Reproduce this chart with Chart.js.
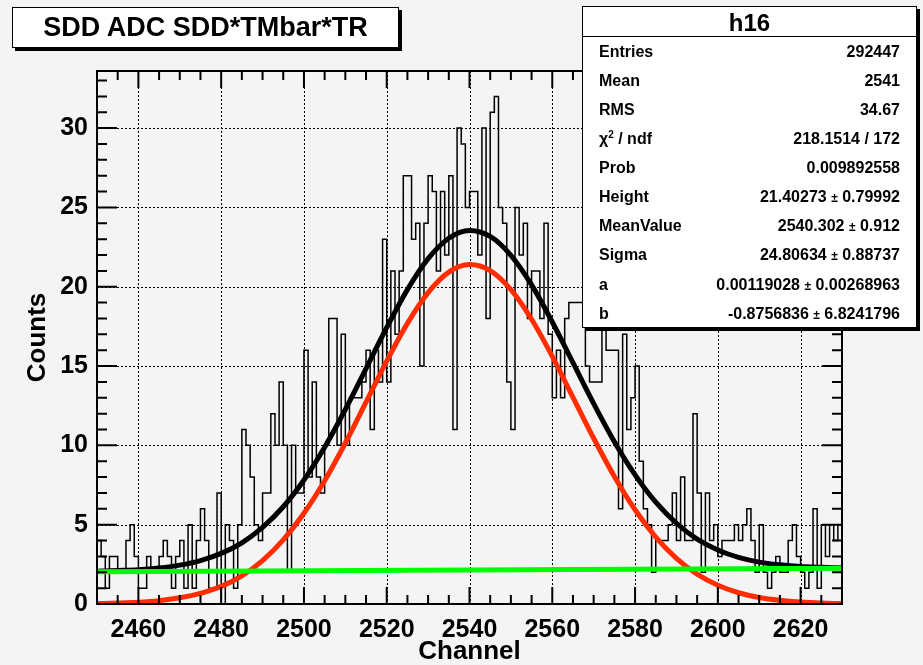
<!DOCTYPE html>
<html>
<head>
<meta charset="utf-8">
<script src="https://cdn.jsdelivr.net/npm/chart.js@4.4.1/dist/chart.umd.min.js"></script>
<style>
  html, body { margin: 0; padding: 0; background: #f4f4f4; }
  #wrap { position: relative; width: 923px; height: 665px; font-family: "Liberation Sans", Arial, Helvetica, sans-serif; font-weight: bold; color: #000; }
  canvas { position: absolute; left: 0; top: 0; }
  .box { position: absolute; background: #fff; border: 1px solid #000; box-shadow: 3px 3px 0 #000; box-sizing: border-box; }
  #title { left: 12px; top: 7px; width: 387px; height: 41px; font-size: 27px; text-align: center; line-height: 39px; }
  #stats { left: 582px; top: 6px; width: 335px; height: 322px; font-size: 16px; }
  #stats .head { height: 29px; border-bottom: 1px solid #000; text-align: center; font-size: 24px; line-height: 31px; }
  #stats .row { display: flex; justify-content: space-between; height: 29.07px; line-height: 29px; padding: 0 16px; }
  #stats sup { font-size: 10px; line-height: 0; vertical-align: 6px; }
  .pm { font-size: 12px; }
</style>
</head>
<body>
<div id="wrap">
  <canvas id="c" width="923" height="665"></canvas>
  <div id="title" class="box">SDD ADC SDD*TMbar*TR</div>
  <div id="stats" class="box">
    <div class="head">h16</div>
    <div class="row"><span>Entries</span><span>292447</span></div>
    <div class="row"><span>Mean</span><span>2541</span></div>
    <div class="row"><span>RMS</span><span>34.67</span></div>
    <div class="row"><span>&chi;<sup>2</sup> / ndf</span><span>218.1514 / 172</span></div>
    <div class="row"><span>Prob</span><span>0.009892558</span></div>
    <div class="row"><span>Height</span><span>21.40273 <span class="pm">&plusmn;</span> 0.79992</span></div>
    <div class="row"><span>MeanValue</span><span>2540.302 <span class="pm">&plusmn;</span> 0.912</span></div>
    <div class="row"><span>Sigma</span><span>24.80634 <span class="pm">&plusmn;</span> 0.88737</span></div>
    <div class="row"><span>a</span><span>0.00119028 <span class="pm">&plusmn;</span> 0.00268963</span></div>
    <div class="row"><span>b</span><span>-0.8756836 <span class="pm">&plusmn;</span> 6.8241796</span></div>
  </div>
</div>
<script>
// histogram h16: one count per channel, first bin starts at 2450
var binStart = 2450;
var binWidth = 1;
var counts = [
  4, 3, 1, 3, 3, 2, 2, 4, 5, 3, 1, 1, 3, 2, 2, 3, 4, 3, 1, 3, 4, 1, 5,
  1, 4, 6, 4, 1, 1, 7, 0, 5, 4, 1, 5, 11, 10, 8, 5, 4, 7, 7, 12, 10,
  14, 10, 2, 10, 7, 7, 16, 8, 14, 8, 7, 10, 18, 18, 10, 17, 10, 13, 13, 13, 14, 16,
  11, 16, 14, 23, 14, 21, 17, 21, 27, 27, 23, 24, 15, 24, 27, 26, 21, 26, 22, 27, 11, 30,
  29, 25, 26, 26, 22, 30, 18, 31, 32, 25, 24, 14, 11, 25, 22, 24, 18, 21, 21, 18, 24,
  17, 13, 16, 13, 18, 19, 19, 19, 19, 15, 14, 14, 14, 19, 16, 16, 16, 6, 17, 11, 13, 15,
  9, 6, 5, 2, 4, 4, 4, 5, 7, 4, 8, 4, 4, 12, 7, 2, 7, 4, 5, 3, 4,
  4, 4, 5, 4, 5, 6, 4, 2, 5, 2, 1, 2, 3, 2, 2, 4, 5, 3, 2, 1, 2, 6, 1, 5, 3, 5, 4, 5
];

// fit curves every 5 channels
var fitX = [2450, 2455, 2460, 2465, 2470, 2475, 2480, 2485, 2490, 2495, 2500, 2505, 2510,
  2515, 2520, 2525, 2530, 2535, 2540, 2545, 2550, 2555, 2560, 2565, 2570, 2575, 2580,
  2585, 2590, 2595, 2600, 2605, 2610, 2615, 2620, 2625, 2630];
var gausY = [0.03, 0.06, 0.11, 0.21, 0.39, 0.67, 1.11, 1.78, 2.74, 4.04, 5.72, 7.77, 10.15,
  12.72, 15.31, 17.69, 19.63, 20.92, 21.40, 21.02, 19.82, 17.95, 15.61, 13.03, 10.45, 8.04, 5.94,
  4.22, 2.88, 1.88, 1.18, 0.71, 0.41, 0.23, 0.12, 0.06, 0.03];
var totalY = [2.07, 2.11, 2.16, 2.27, 2.45, 2.74, 3.19, 3.86, 4.83, 6.13, 7.82, 9.88, 12.26,
  14.84, 17.43, 19.82, 21.77, 23.06, 23.55, 23.17, 21.98, 20.12, 17.78, 15.21, 12.63, 10.23, 8.14,
  6.42, 5.09, 4.09, 3.40, 2.94, 2.64, 2.47, 2.36, 2.31, 2.28];
var bgX = [2450, 2630];
var bgY = [2.04, 2.25];

var xTicks = [2460, 2480, 2500, 2520, 2540, 2560, 2580, 2600, 2620];
var yTicks = [0, 5, 10, 15, 20, 25, 30];

var histPts = counts.map(function (c, i) { return {x: binStart + i * binWidth, y: c}; });
histPts.push({x: binStart + counts.length * binWidth, y: counts[counts.length - 1]});

function pts(xs, ys) {
  return xs.map(function (v, i) { return {x: v, y: ys[i]}; });
}

var tickFont = {family: '"Liberation Sans", Arial, sans-serif', size: 25, weight: 'bold'};
var titleFont = {family: '"Liberation Sans", Arial, sans-serif', size: 26, weight: 'bold', lineHeight: 1};

// ROOT style frame: dotted grid, ticks inside on all four sides
var rootFrame = {
  id: 'rootFrame',
  beforeDatasetsDraw: function (chart) {
    var ctx = chart.ctx, a = chart.chartArea, x = chart.scales.x, y = chart.scales.y;
    ctx.save();
    ctx.strokeStyle = '#000';
    ctx.lineWidth = 1;
    ctx.setLineDash([2, 2]);
    ctx.beginPath();
    xTicks.forEach(function (v) {
      var px = Math.round(x.getPixelForValue(v)) + 0.5;
      ctx.moveTo(px, a.top); ctx.lineTo(px, a.bottom);
    });
    yTicks.forEach(function (v) {
      if (v === 0) return;
      var py = Math.round(y.getPixelForValue(v)) + 0.5;
      ctx.moveTo(a.left, py); ctx.lineTo(a.right, py);
    });
    ctx.stroke();
    ctx.restore();
  },
  afterDatasetsDraw: function (chart) {
    var ctx = chart.ctx, a = chart.chartArea, x = chart.scales.x, y = chart.scales.y;
    ctx.save();
    ctx.strokeStyle = '#000';
    ctx.lineWidth = 2;
    ctx.beginPath();
    for (var v = x.min; v <= x.max; v += 5) {
      var px = x.getPixelForValue(v);
      var len = (v - 2460) % 20 === 0 ? 17 : 9;
      ctx.moveTo(px, a.bottom); ctx.lineTo(px, a.bottom - len);
      ctx.moveTo(px, a.top); ctx.lineTo(px, a.top + len);
    }
    for (var w = 0; w <= y.max; w += 1) {
      var py = y.getPixelForValue(w);
      var l2 = w % 5 === 0 ? 20 : 10;
      ctx.moveTo(a.left, py); ctx.lineTo(a.left + l2, py);
      ctx.moveTo(a.right, py); ctx.lineTo(a.right - l2, py);
    }
    ctx.stroke();
    ctx.strokeRect(a.left, a.top, a.right - a.left, a.bottom - a.top);
    ctx.restore();
  }
};

new Chart(document.getElementById('c'), {
  type: 'scatter',
  data: {
    datasets: [
      {label: 'pol1', data: pts(bgX, bgY), showLine: true, borderColor: '#00ff00', borderWidth: 5, pointRadius: 0},
      {label: 'gaus', data: pts(fitX, gausY), showLine: true, borderColor: '#ff2d00', borderWidth: 5, pointRadius: 0, cubicInterpolationMode: 'monotone'},
      {label: 'total', data: pts(fitX, totalY), showLine: true, borderColor: '#000000', borderWidth: 5, pointRadius: 0, cubicInterpolationMode: 'monotone'},
      {label: 'h16', data: histPts, showLine: true, stepped: 'before', borderColor: '#000000', borderWidth: 1.5, pointRadius: 0}
    ]
  },
  options: {
    responsive: false,
    animation: false,
    layout: {padding: {top: 71, right: 81, left: 0, bottom: 0}},
    plugins: {legend: {display: false}, tooltip: {enabled: false}},
    scales: {
      x: {
        type: 'linear', min: 2450, max: 2630,
        afterFit: function (s) { s.height = 61; },
        afterBuildTicks: function (s) { s.ticks = xTicks.map(function (v) { return {value: v}; }); },
        grid: {display: false, drawTicks: false},
        border: {display: false},
        ticks: {font: tickFont, color: '#000', padding: 11, maxRotation: 0,
          callback: function (v) { return String(v); }},
        title: {display: true, text: 'Channel', color: '#000', font: titleFont, padding: {top: 0, bottom: 0}}
      },
      y: {
        type: 'linear', min: 0, max: 33.6,
        afterFit: function (s) { s.width = 97; },
        afterBuildTicks: function (s) { s.ticks = yTicks.map(function (v) { return {value: v}; }); },
        grid: {display: false, drawTicks: false},
        border: {display: false},
        ticks: {font: tickFont, color: '#000', padding: 9},
        title: {display: true, text: 'Counts', color: '#000', font: titleFont, padding: {top: 25, bottom: 0}}
      }
    }
  },
  plugins: [rootFrame]
});
</script>
</body>
</html>
